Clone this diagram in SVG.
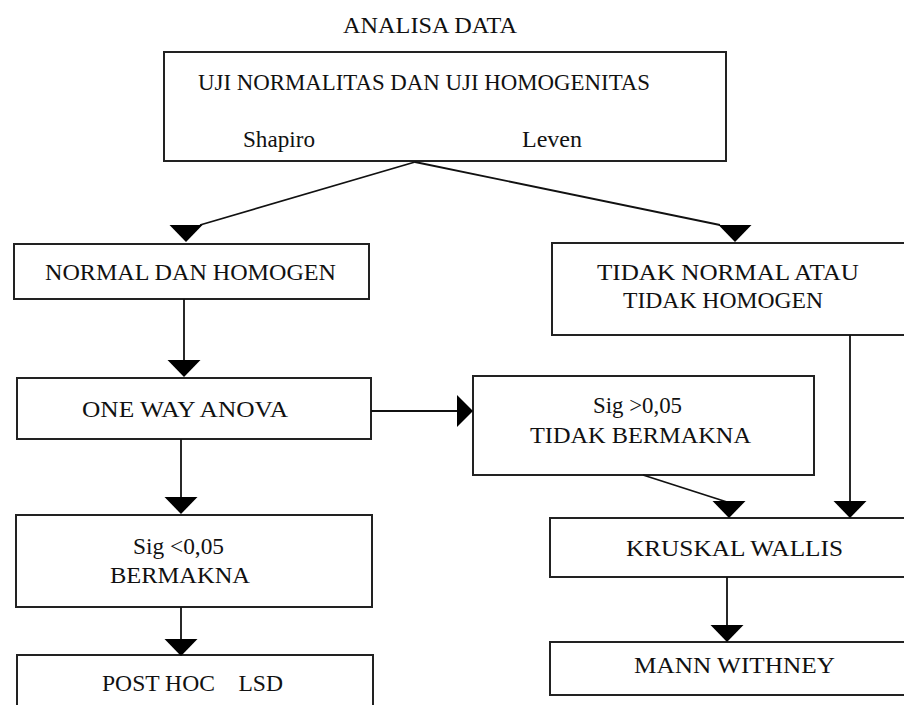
<svg xmlns="http://www.w3.org/2000/svg" width="904" height="705" viewBox="0 0 904 705">
<style>
.box{fill:#fff;stroke:#222;stroke-width:2}
.t{font-family:"Liberation Serif","Times New Roman",serif;font-size:24px;fill:#111}
.c{stroke:#111;stroke-width:1.8;fill:none}
.ah{fill:#000}
</style>
<defs>
<path id="down" d="M-16.5,-17 L16.5,-17 L0,0 Z"/>
</defs>
<rect width="904" height="705" fill="#fff"/>
<text class="t" x="343" y="33" textLength="174" lengthAdjust="spacingAndGlyphs">ANALISA DATA</text>
<g id="uji">
<rect class="box" x="164" y="52" width="562" height="109"/>
<text class="t" x="198" y="90" textLength="452" lengthAdjust="spacingAndGlyphs">UJI NORMALITAS DAN UJI HOMOGENITAS</text>
<text class="t" x="243" y="147" textLength="72" lengthAdjust="spacingAndGlyphs">Shapiro</text>
<text class="t" x="522" y="147" textLength="60" lengthAdjust="spacingAndGlyphs">Leven</text>
</g>
<g id="normal">
<rect class="box" x="14" y="244" width="355" height="55"/>
<text class="t" x="45" y="280" textLength="291" lengthAdjust="spacingAndGlyphs">NORMAL DAN HOMOGEN</text>
</g>
<g id="anova">
<rect class="box" x="17" y="378" width="354" height="61"/>
<text class="t" x="82" y="417" textLength="206" lengthAdjust="spacingAndGlyphs">ONE WAY ANOVA</text>
</g>
<g id="bermakna">
<rect class="box" x="16" y="515" width="356" height="92"/>
<text class="t" x="133" y="554" textLength="91" lengthAdjust="spacingAndGlyphs">Sig &lt;0,05</text>
<text class="t" x="110" y="583" textLength="140" lengthAdjust="spacingAndGlyphs">BERMAKNA</text>
</g>
<g id="posthoc">
<rect class="box" x="17" y="655" width="356" height="70"/>
<text class="t" x="102" y="691" textLength="181" lengthAdjust="spacingAndGlyphs" xml:space="preserve">POST HOC    LSD</text>
</g>
<g id="tidaknormal">
<rect class="box" x="552" y="243" width="370" height="92"/>
<text class="t" x="597" y="280" textLength="262" lengthAdjust="spacingAndGlyphs">TIDAK NORMAL ATAU</text>
<text class="t" x="623" y="308" textLength="200" lengthAdjust="spacingAndGlyphs">TIDAK HOMOGEN</text>
</g>
<g id="tidakbermakna">
<rect class="box" x="473" y="376" width="341" height="99"/>
<text class="t" x="593" y="413" textLength="89" lengthAdjust="spacingAndGlyphs">Sig &gt;0,05</text>
<text class="t" x="530" y="443" textLength="221" lengthAdjust="spacingAndGlyphs">TIDAK BERMAKNA</text>
</g>
<g id="kruskal">
<rect class="box" x="550" y="518" width="370" height="59"/>
<text class="t" x="626" y="556" textLength="217" lengthAdjust="spacingAndGlyphs">KRUSKAL WALLIS</text>
</g>
<g id="mann">
<rect class="box" x="550" y="642" width="370" height="53"/>
<text class="t" x="634" y="673" textLength="201" lengthAdjust="spacingAndGlyphs">MANN WITHNEY</text>
</g>
<g id="connectors">
<path class="c" d="M415,162 L200,225"/>
<use href="#down" class="ah" x="186" y="242"/>
<path class="c" d="M415,162 L720,225"/>
<use href="#down" class="ah" x="735" y="242"/>
<path class="c" d="M184,299 V361"/>
<use href="#down" class="ah" x="184" y="377"/>
<path class="c" d="M371,411 H458"/>
<path class="ah" d="M457,395 L457,427 L473,411 Z"/>
<path class="c" d="M181,439 V498"/>
<use href="#down" class="ah" x="181" y="514"/>
<path class="c" d="M181,607 V641"/>
<use href="#down" class="ah" x="181" y="656"/>
<path class="c" d="M850,335 V502"/>
<use href="#down" class="ah" x="850" y="518"/>
<path class="c" d="M643,475 L727,502"/>
<use href="#down" class="ah" x="729" y="518"/>
<path class="c" d="M727,577 V627"/>
<use href="#down" class="ah" x="727" y="642"/>
</g>
</svg>
